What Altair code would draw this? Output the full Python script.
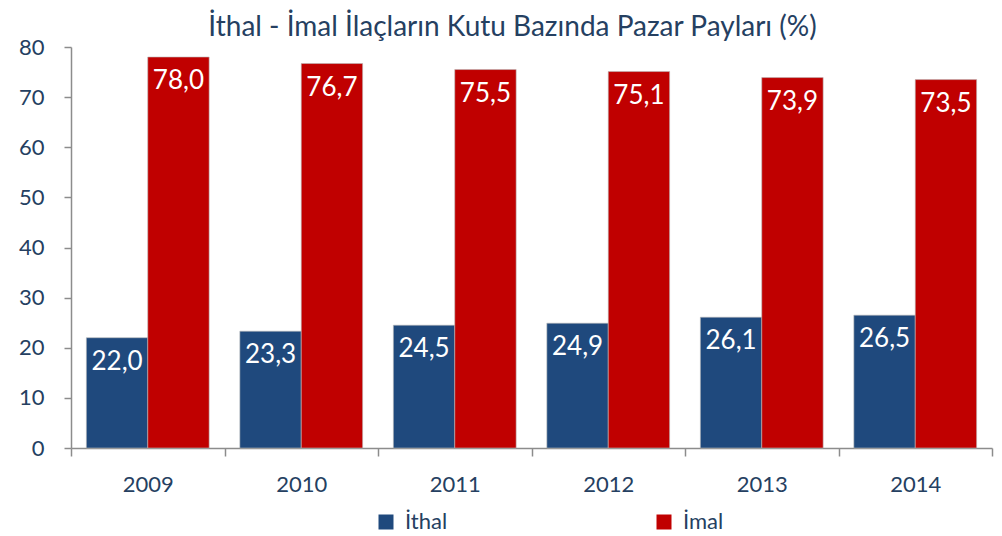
import altair as alt
import pandas as pd

years = ["2009", "2010", "2011", "2012", "2013", "2014"]
ithal = [22.0, 23.3, 24.5, 24.9, 26.1, 26.5]
imal = [78.0, 76.7, 75.5, 75.1, 73.9, 73.5]
series = ["İthal", "İmal"]
colors = ["#1F497D", "#C00000"]
title_text = "İthal  - İmal İlaçların Kutu Bazında Pazar Payları (%)"

rows = []
for i, y in enumerate(years):
    rows.append({"year": y, "series": series[0], "value": ithal[i], "order": 0})
    rows.append({"year": y, "series": series[1], "value": imal[i], "order": 1})
df = pd.DataFrame(rows)

FONT = "Lato"
TXT = "#254061"
AX = "#8C8C8C"

x = alt.X("year:N", sort=years, title=None,
          scale=alt.Scale(paddingInner=0, paddingOuter=0),
          axis=alt.Axis(labelAngle=0, domainColor=AX, tickColor=AX, tickBand="extent",
                        tickSize=8, labelPadding=18, labelFontSize=22, labelColor=TXT,
                        labelFont=FONT, domainWidth=1.5, tickWidth=1.5))
xo = alt.XOffset("series:N", sort=series, scale=alt.Scale(paddingInner=0, paddingOuter=0.25))
y = alt.Y("value:Q", title=None,
          scale=alt.Scale(domain=[0, 80], nice=False),
          axis=alt.Axis(values=list(range(0, 81, 10)), grid=False, domainColor=AX, tickColor=AX,
                        tickSize=7, labelPadding=20, labelFontSize=22, labelColor=TXT,
                        labelFont=FONT, domainWidth=1.5, tickWidth=1.5))

color = alt.Color("series:N", sort=series, scale=alt.Scale(domain=series, range=colors),
                  legend=alt.Legend(title=None, orient="none", direction="horizontal",
                                    legendX=304, legendY=464, symbolType="square",
                                    symbolSize=225, symbolStrokeWidth=0, labelFontSize=22,
                                    labelColor=TXT, labelFont=FONT, columnPadding=205,
                                    labelOffset=8))

bars = alt.Chart(df).mark_bar(stroke="#BBBBBB", strokeWidth=0.6).encode(
    x=x, xOffset=xo, y=y, color=color)

labels = alt.Chart(df).transform_calculate(
    lab="replace(format(datum.value, '.1f'), '.', ',')"
).mark_text(color="white", fontSize=26, font=FONT, baseline="middle", dy=24).encode(
    x=alt.X("year:N", sort=years), xOffset=alt.XOffset("series:N", sort=series),
    y="value:Q", text="lab:N")

chart = alt.layer(bars, labels).properties(
    width=921, height=401,
    title=alt.TitleParams(title_text, fontSize=28, font=FONT, color=TXT, fontWeight="normal",
                          anchor="middle", offset=10, dx=-19, dy=16),
    autosize=alt.AutoSizeParams(type="none"),
    padding={"left": 63, "top": 39, "right": 2, "bottom": 86},
).configure_view(stroke=None)

chart.save("out.html", embed_options={"renderer": "svg", "actions": False})
